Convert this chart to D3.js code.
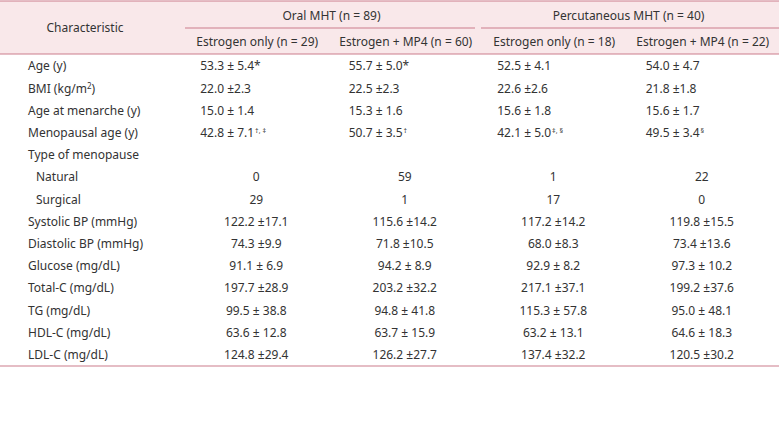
<!DOCTYPE html>
<html><head><meta charset="utf-8">
<script src="https://cdn.jsdelivr.net/npm/d3@7"></script>
<style>
body{margin:0;background:#fff}
svg{display:block}
text{font-family:"Noto Sans",sans-serif;font-size:12px;fill:#333}
</style>
</head><body><svg id="c" width="779" height="429"></svg>
<script>
const stubHeader = "Characteristic";
const groupHeaders = ["Oral MHT (n = 89)", "Percutaneous MHT (n = 40)"];
const columnHeaders = ["Estrogen only (n = 29)", "Estrogen + MP4 (n = 60)", "Estrogen only (n = 18)", "Estrogen + MP4 (n = 22)"];
const characteristics = ["Age (y)", "BMI (kg/m^2)", "Age at menarche (y)", "Menopausal age (y)", "Type of menopause", "Natural", "Surgical", "Systolic BP (mmHg)", "Diastolic BP (mmHg)", "Glucose (mg/dL)", "Total-C (mg/dL)", "TG (mg/dL)", "HDL-C (mg/dL)", "LDL-C (mg/dL)"];
const subRows = ["Natural", "Surgical"];
const oralEstrogenOnly = ["53.3 ± 5.4*", "22.0 ±2.3", "15.0 ± 1.4", "42.8 ± 7.1", "", "0", "29", "122.2 ±17.1", "74.3 ±9.9", "91.1 ± 6.9", "197.7 ±28.9", "99.5 ± 38.8", "63.6 ± 12.8", "124.8 ±29.4"];
const oralEstrogenMP4 = ["55.7 ± 5.0*", "22.5 ±2.3", "15.3 ± 1.6", "50.7 ± 3.5", "", "59", "1", "115.6 ±14.2", "71.8 ±10.5", "94.2 ± 8.9", "203.2 ±32.2", "94.8 ± 41.8", "63.7 ± 15.9", "126.2 ±27.7"];
const percEstrogenOnly = ["52.5 ± 4.1", "22.6 ±2.6", "15.6 ± 1.8", "42.1 ± 5.0", "", "1", "17", "117.2 ±14.2", "68.0 ±8.3", "92.9 ± 8.2", "217.1 ±37.1", "115.3 ± 57.8", "63.2 ± 13.1", "137.4 ±32.2"];
const percEstrogenMP4 = ["54.0 ± 4.7", "21.8 ±1.8", "15.6 ± 1.7", "49.5 ± 3.4", "", "22", "0", "119.8 ±15.5", "73.4 ±13.6", "97.3 ± 10.2", "199.2 ±37.6", "95.0 ± 48.1", "64.6 ± 18.3", "120.5 ±30.2"];
const footnoteMarks = [
  ["", "", "", "†, ‡", "", "", "", "", "", "", "", "", "", ""],
  ["", "", "", "†", "", "", "", "", "", "", "", "", "", ""],
  ["", "", "", "‡, §", "", "", "", "", "", "", "", "", "", ""],
  ["", "", "", "§", "", "", "", "", "", "", "", "", "", ""]
];
const series = [oralEstrogenOnly, oralEstrogenMP4, percEstrogenOnly, percEstrogenMP4];

const W = 779, ruleColor = "#cc7d8c", headBg = "#f9e8ea";
const svg = d3.select("#c");
const left = 185, right = W;
const headTop = 1, headMid = 28, headBottom = 54, bodyBottom = 366;
const leftAlignedRowCount = 4;

const col = d3.scaleBand().domain(d3.range(series.length)).range([left, right]);
const grp = d3.scaleBand().domain(d3.range(groupHeaders.length)).range([left, right]);
const row = d3.scaleBand().domain(d3.range(characteristics.length)).range([headBottom + 1, bodyBottom]);

svg.append("rect").attr("x", 0).attr("y", headTop).attr("width", W).attr("height", headBottom - headTop).attr("fill", headBg);

const hline = (x1, x2, y) => svg.append("line").attr("x1", x1).attr("x2", x2).attr("y1", y).attr("y2", y)
  .attr("stroke", ruleColor).attr("stroke-width", 1.2);
hline(0, W, headTop);
hline(0, W, headBottom);
hline(0, W, bodyBottom);
groupHeaders.forEach((g, i) => hline(grp(i) + (i === 0 ? 0 : -1), grp(i) + grp.bandwidth() - (i === 0 ? 7 : 0), headMid));

svg.append("text").attr("x", 85).attr("y", (headTop + headBottom) / 2).attr("dy", "0.35em").attr("text-anchor", "middle").text(stubHeader);
svg.selectAll(".gh").data(groupHeaders).join("text").attr("class", "gh")
  .attr("x", (d, i) => grp(i) + grp.bandwidth() / 2 - 2)
  .attr("y", (headTop + headMid) / 2 + 1).attr("dy", "0.35em").attr("text-anchor", "middle").text(d => d);
svg.selectAll(".ch").data(columnHeaders).join("text").attr("class", "ch")
  .attr("x", (d, i) => col(i) + col.bandwidth() / 2 - 2)
  .attr("y", (headMid + headBottom) / 2 + 1).attr("dy", "0.35em").attr("text-anchor", "middle").text(d => d);

const rowY = i => row(i) + row.bandwidth() / 2;
characteristics.forEach((lab, i) => {
  const t = svg.append("text").attr("x", subRows.includes(lab) ? 36 : 28).attr("y", rowY(i)).attr("dy", "0.35em");
  const parts = lab.split(/\^(.)/);
  parts.forEach((p, k) => {
    if (k % 2 === 1) {
      t.append("tspan").attr("font-size", "8px").attr("dy", "-0.5em").text(p);
    } else if (p) {
      const s = t.append("tspan").text(p);
      if (k > 0) s.attr("dy", "0.4em");
    }
  });
});

series.forEach((vals, c) => {
  const cx = col(c) + col.bandwidth() / 2 - 3;
  vals.forEach((v, i) => {
    if (!v) return;
    const leftAligned = i < leftAlignedRowCount;
    const t = svg.append("text")
      .attr("x", leftAligned ? cx - 56 : cx)
      .attr("y", rowY(i)).attr("dy", "0.35em")
      .attr("text-anchor", leftAligned ? "start" : "middle");
    t.append("tspan").text(v);
    const m = footnoteMarks[c][i];
    if (m) t.append("tspan").attr("font-size", "7px").attr("dy", "-0.6em").attr("dx", "1").text(m);
  });
});
</script>
</body></html>
